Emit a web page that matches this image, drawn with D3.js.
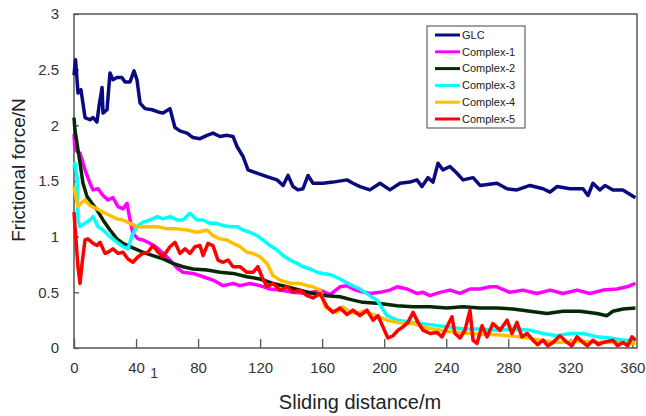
<!DOCTYPE html>
<html>
<head>
<meta charset="utf-8">
<script src="https://cdn.jsdelivr.net/npm/d3@7"></script>
<style>
  body { margin: 0; background: #fff; }
  svg { display: block; font-family: "Liberation Sans", Arial, sans-serif; }
</style>
</head>
<body>
<div id="chart"></div>
<script>
/* global d3 */

// data: [sliding distance (m), frictional force (N)]
const glc = [[0,2.45],[1,2.59],[2.6,2.29],[4.5,2.32],[7.1,2.07],[10.3,2.05],[12.3,2.07],[14.8,2.03],[16.1,2.17],[18.1,2.34],[18.7,2.11],[21.3,2.14],[23.2,2.47],[25.1,2.41],[27.7,2.43],[30.9,2.43],[32.9,2.39],[36.1,2.39],[38.7,2.49],[40.6,2.41],[42.6,2.2],[45.8,2.15],[50.3,2.14],[54.2,2.12],[57.4,2.11],[61.9,2.15],[65.1,1.98],[68.3,1.95],[72.9,1.93],[76.7,1.89],[81.2,1.88],[85.8,1.91],[89.6,1.93],[94.1,1.9],[98.6,1.91],[102.5,1.9],[105.1,1.81],[109,1.72],[112.2,1.6],[118,1.57],[124.4,1.54],[130.9,1.51],[134.8,1.46],[138,1.55],[141.2,1.45],[144.4,1.42],[147.6,1.43],[150.9,1.55],[154.1,1.48],[160.5,1.48],[167,1.49],[176,1.51],[179.9,1.48],[184.4,1.45],[190.8,1.42],[197.3,1.48],[203.7,1.42],[210.2,1.48],[216.6,1.49],[221.1,1.51],[224.4,1.45],[228.2,1.53],[231.5,1.49],[234.7,1.66],[237.9,1.6],[242.4,1.63],[246.9,1.57],[250.8,1.51],[257.3,1.53],[261.8,1.46],[272.7,1.48],[279.2,1.43],[285.6,1.42],[294,1.46],[302.4,1.43],[306.9,1.4],[311.4,1.45],[319.8,1.43],[328.2,1.43],[331.4,1.37],[334.6,1.48],[339.1,1.42],[342.4,1.46],[347.5,1.42],[353.9,1.42],[362,1.35]];

const complex1 = [[0,1.92],[0.6,1.78],[3.9,1.75],[7.1,1.6],[10.3,1.48],[12.3,1.42],[15.5,1.43],[18.7,1.37],[21.9,1.33],[25.1,1.35],[28.4,1.27],[31.6,1.25],[34.2,1.3],[36.1,1.15],[38,1.03],[41.3,0.98],[44.5,0.97],[49,0.94],[53.5,0.9],[57.4,0.85],[61.9,0.79],[66.4,0.72],[70.3,0.68],[76.7,0.67],[83.2,0.64],[89.6,0.61],[96.1,0.56],[102.5,0.58],[107,0.56],[113.5,0.58],[119.9,0.56],[126.4,0.53],[132.8,0.52],[141.2,0.5],[150.2,0.49],[158.6,0.52],[165.1,0.48],[171.5,0.55],[176,0.56],[179.9,0.53],[184.4,0.51],[190.8,0.49],[197.3,0.5],[203.7,0.52],[208.3,0.55],[214.7,0.53],[221.1,0.49],[225,0.5],[229.5,0.47],[236,0.5],[242.4,0.52],[248.9,0.49],[255.3,0.53],[261.8,0.53],[268.2,0.55],[272.7,0.55],[281.1,0.5],[289.5,0.52],[298.5,0.49],[306.9,0.52],[315.3,0.49],[324.3,0.52],[332.7,0.49],[341.1,0.52],[350.1,0.53],[356.5,0.55],[362,0.58]];

const complex2 = [[0,2.07],[0.6,1.96],[3.9,1.66],[5.8,1.48],[8.4,1.36],[11.6,1.3],[14.8,1.24],[18.7,1.15],[23.2,1.06],[27.7,0.98],[31.6,0.94],[38,0.9],[44.5,0.86],[50.9,0.83],[57.4,0.8],[63.8,0.76],[70.3,0.73],[76.7,0.71],[85.8,0.7],[94.1,0.68],[102.5,0.67],[111.5,0.64],[119.9,0.62],[128.3,0.58],[137.3,0.55],[145.7,0.52],[154.1,0.49],[163.1,0.47],[171.5,0.46],[179.9,0.43],[186.3,0.41],[197.3,0.4],[208.3,0.38],[218.6,0.37],[229.5,0.37],[240.5,0.36],[250.8,0.37],[261.8,0.36],[272.7,0.36],[283,0.35],[294,0.33],[305,0.31],[315.3,0.33],[326.2,0.33],[337.2,0.31],[343.6,0.29],[347.5,0.33],[353.9,0.35],[362,0.36]];

const complex3 = [[0,1.62],[0.6,1.66],[1.9,1.54],[2.6,1.15],[3.9,1.09],[7.1,1.12],[10.3,1.15],[12.3,1.18],[15.5,1.09],[18.7,1.06],[23.2,1],[27.7,0.95],[31.6,0.91],[34.8,0.89],[37.4,1.01],[40.6,1.09],[44.5,1.13],[49,1.15],[53.5,1.18],[57.4,1.16],[61.9,1.18],[66.4,1.15],[70.3,1.15],[74.8,1.21],[79.3,1.15],[83.2,1.15],[87.7,1.12],[92.2,1.12],[96.1,1.1],[100.6,1.09],[105.1,1.09],[109,1.06],[113.5,1.04],[118,1.01],[121.9,0.97],[126.4,0.92],[130.9,0.88],[134.8,0.83],[139.3,0.79],[143.8,0.76],[147.6,0.73],[152.2,0.71],[156.7,0.68],[160.5,0.67],[165.1,0.66],[171.5,0.62],[178,0.57],[184.4,0.53],[190.8,0.47],[195.4,0.43],[198.6,0.36],[201.8,0.29],[208.3,0.25],[218.6,0.23],[229.5,0.21],[240.5,0.19],[250.8,0.17],[261.8,0.17],[272.7,0.16],[283,0.17],[294,0.16],[302.4,0.13],[311.4,0.11],[319.8,0.13],[328.2,0.13],[337.2,0.1],[345.6,0.09],[353.9,0.07],[362,0.07]];

const complex4 = [[0,1.45],[0.6,1.4],[2.6,1.27],[5.2,1.31],[7.1,1.33],[10.3,1.28],[14.8,1.25],[18.7,1.22],[23.2,1.19],[27.7,1.16],[31.6,1.15],[36.1,1.12],[40.6,1.09],[47.1,1.09],[53.5,1.09],[60,1.07],[66.4,1.07],[72.9,1.06],[79.3,1.04],[85.8,1.06],[89.6,1.01],[94.1,0.98],[98.6,0.97],[102.5,0.94],[107,0.91],[111.5,0.86],[115.4,0.85],[119.9,0.82],[124.4,0.76],[128.3,0.65],[132.8,0.61],[137.3,0.59],[141.2,0.58],[145.7,0.58],[150.2,0.56],[154.1,0.55],[158.6,0.52],[161.8,0.37],[165.1,0.34],[169.6,0.32],[173.4,0.37],[178,0.32],[182.5,0.31],[186.3,0.33],[192.8,0.3],[201.8,0.25],[208.3,0.23],[218.6,0.22],[227.6,0.18],[240.5,0.15],[255.3,0.13],[272.7,0.12],[287.6,0.1],[305,0.06],[311.4,0.05],[326.2,0.06],[339.1,0.05],[352,0.05],[362,0.04]];

const complex5 = [[0,1.22],[0.6,1.1],[2.6,0.72],[3.9,0.58],[5.2,0.76],[7.1,0.97],[9,0.98],[12.3,0.94],[14.8,0.92],[16.8,0.95],[20,0.85],[21.9,0.86],[25.1,0.89],[28.4,0.85],[31.6,0.86],[34.8,0.8],[38,0.77],[41.3,0.82],[44.5,0.85],[47.7,0.86],[50.9,0.92],[54.2,0.86],[57.4,0.82],[61.9,0.91],[65.1,0.95],[68.3,0.85],[71.6,0.89],[74.8,0.85],[78,0.91],[81.2,0.92],[83.2,0.83],[86.4,0.94],[89.6,0.92],[92.8,0.79],[96.1,0.77],[99.3,0.79],[102.5,0.73],[107,0.73],[111.5,0.68],[115.4,0.68],[118.6,0.73],[121.2,0.64],[124.4,0.55],[128.3,0.58],[132.8,0.52],[137.3,0.55],[141.2,0.5],[145.7,0.52],[150.2,0.47],[154.1,0.45],[158.6,0.49],[163.1,0.37],[167,0.32],[171.5,0.36],[176,0.3],[179.9,0.34],[184.4,0.29],[188.9,0.34],[192.8,0.25],[196,0.29],[199.2,0.19],[202.4,0.09],[205.7,0.11],[208.9,0.16],[212.1,0.19],[215.3,0.23],[218.6,0.32],[221.8,0.23],[225,0.16],[229.5,0.13],[234,0.14],[237.3,0.1],[240.5,0.19],[243.7,0.28],[245.6,0.13],[248.9,0.09],[252.1,0.16],[255.3,0.34],[257.3,0.07],[259.8,0.04],[263.1,0.2],[266.3,0.1],[270.1,0.22],[274.7,0.16],[279.2,0.25],[282.4,0.13],[285.6,0.23],[288.8,0.1],[292.1,0.13],[295.9,0.07],[299,0.03],[302.4,0.07],[305.5,0.02],[308.8,0.05],[313.3,0.11],[317.9,0.05],[321,0.02],[324.3,0.1],[328.2,0.05],[331,0.02],[334.6,0.07],[338,0.03],[341.1,0.05],[347.5,0.07],[350.5,0.02],[353.9,0.05],[357,0.02],[359.8,0.1],[362,0.07]];

const seriesNames = ['GLC', 'Complex-1', 'Complex-2', 'Complex-3', 'Complex-4', 'Complex-5'];
const seriesData = [glc, complex1, complex2, complex3, complex4, complex5];
const seriesColors = ['#0a0a80', '#ff00ff', '#032903', '#00ffff', '#ffc000', '#ff0000'];

const xTicks = [0, 40, 80, 120, 160, 200, 240, 280, 320, 360];
const yTicks = [0, 0.5, 1, 1.5, 2, 2.5, 3];

// dimensions
const WIDTH = 646;
const HEIGHT = 416;
const MARGIN_TOP = 14;
const MARGIN_LEFT = 74;
const MARGIN_RIGHT = 9;
const MARGIN_BOTTOM = 68;

const x = d3.scaleLinear()
  .domain([0, 363])
  .range([MARGIN_LEFT, WIDTH - MARGIN_RIGHT]);

const y = d3.scaleLinear()
  .domain([0, 3])
  .range([HEIGHT - MARGIN_BOTTOM, MARGIN_TOP]);

const $svg = d3.select('#chart').append('svg')
  .attr('width', WIDTH)
  .attr('height', HEIGHT);

// axes (ticks point inward)
const $xAxis = $svg.append('g')
  .attr('class', 'x axis')
  .attr('transform', `translate(0,${y(0)})`)
  .call(d3.axisBottom(x).tickValues(xTicks).tickFormat(d => d)
    .tickSizeInner(-9).tickSizeOuter(0).tickPadding(14));

const $yAxis = $svg.append('g')
  .attr('class', 'y axis')
  .attr('transform', `translate(${x(0)},0)`)
  .call(d3.axisLeft(y).tickValues(yTicks).tickFormat(d => d)
    .tickSizeInner(-5).tickSizeOuter(0).tickPadding(15));

$svg.selectAll('.axis .domain').remove();
$svg.selectAll('.axis line').attr('stroke', '#555').attr('stroke-width', 1.3);
$svg.selectAll('.axis text')
  .attr('fill', '#333')
  .style('font-size', '15px');

// stray "1" next to the 40 label in the original figure
$xAxis.append('text')
  .attr('x', x(40) + 18)
  .attr('y', 30)
  .attr('fill', '#333')
  .style('font-size', '14px')
  .attr('text-anchor', 'middle')
  .text('1');

// plot frame
$svg.append('rect')
  .attr('x', x(0))
  .attr('y', y(3))
  .attr('width', x(363) - x(0))
  .attr('height', y(0) - y(3))
  .attr('fill', 'none')
  .attr('stroke', '#555')
  .attr('stroke-width', 1.5);

// lines
const line = d3.line()
  .x(d => x(d[0]))
  .y(d => y(d[1]));

$svg.append('g')
  .attr('class', 'g-lines')
  .selectAll('path')
  .data(seriesData)
  .join('path')
  .attr('d', line)
  .attr('fill', 'none')
  .attr('stroke', (d, i) => seriesColors[i])
  .attr('stroke-width', 3.5)
  .attr('stroke-linejoin', 'round');

// axis titles
$svg.append('text')
  .attr('x', 360)
  .attr('y', 409)
  .attr('text-anchor', 'middle')
  .attr('fill', '#222')
  .style('font-size', '20px')
  .text('Sliding distance/m');

$svg.append('text')
  .attr('transform', 'translate(25,170) rotate(-90)')
  .attr('text-anchor', 'middle')
  .attr('fill', '#222')
  .style('font-size', '19px')
  .text('Frictional force/N');

// legend
const LEGEND_X = 427;
const LEGEND_Y = 26;
const ROW_H = 16.8;

const $legend = $svg.append('g')
  .attr('class', 'legend')
  .attr('transform', `translate(${LEGEND_X},${LEGEND_Y})`);

$legend.append('rect')
  .attr('width', 98)
  .attr('height', 102)
  .attr('fill', '#fff')
  .attr('stroke', '#444')
  .attr('stroke-width', 1);

const $rows = $legend.selectAll('g.row')
  .data(seriesNames)
  .join('g')
  .attr('class', 'row')
  .attr('transform', (d, i) => `translate(0,${9 + i * ROW_H})`);

$rows.append('line')
  .attr('x1', 8)
  .attr('x2', 33)
  .attr('stroke', (d, i) => seriesColors[i])
  .attr('stroke-width', 3);

$rows.append('text')
  .attr('x', 35)
  .attr('dy', '0.35em')
  .attr('fill', '#222')
  .style('font-size', '11px')
  .text(d => d);
</script>
</body>
</html>
